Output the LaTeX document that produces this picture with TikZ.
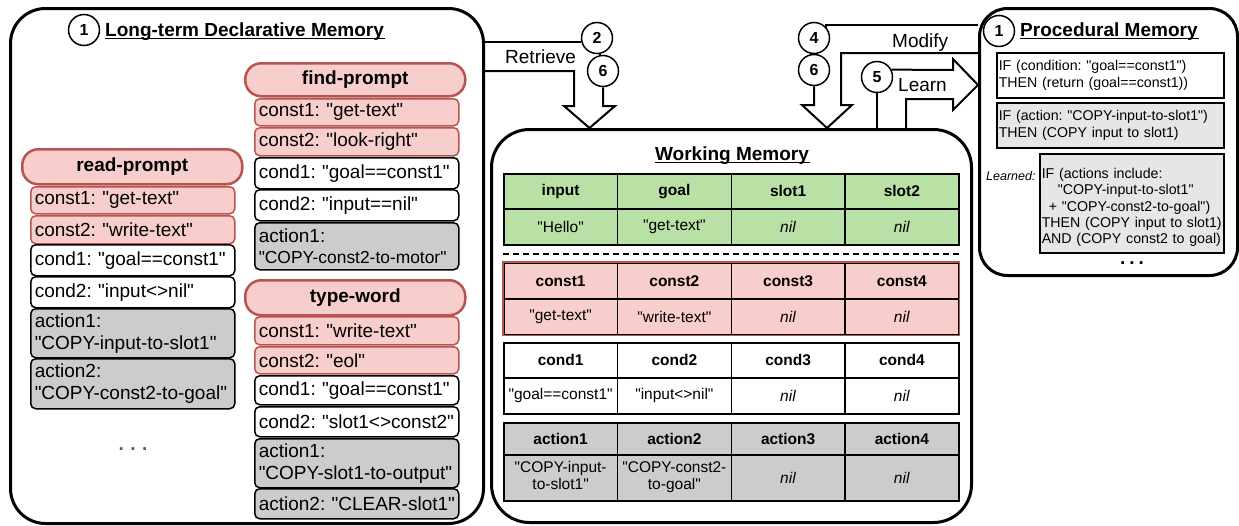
\documentclass[tikz,border=0pt]{standalone}
\usepackage{fontspec}
\setmainfont{Liberation Sans}[Ligatures=TeXOff]
\exhyphenpenalty=10000
\hyphenpenalty=10000
\definecolor{chunkpink}{HTML}{F8CECC}
\definecolor{chunkred}{HTML}{B85450}
\definecolor{wmgreen}{HTML}{B9E0A5}
\definecolor{actgray}{HTML}{CCCCCC}
\definecolor{rulegray}{HTML}{E6E6E6}
\newcommand{\chunkfont}{\fontsize{19}{21.7}\selectfont}
\newcommand{\numfont}{\fontsize{16}{18}\selectfont}
\newcommand{\tabfont}{\fontsize{15.5}{16.5}\selectfont}
\newcommand{\rulefont}{\fontsize{14.2}{16.3}\selectfont}
\newcommand{\cellpair}[2]{\begin{tabular}{@{}c@{}}#1\\#2\end{tabular}}

\begin{document}
\frenchspacing
\begin{tikzpicture}[x=1pt,y=-1pt,
  bigbox/.style={draw,line width=3pt,fill=white,rounded corners=#1,anchor=north west,inner sep=0pt},
  chunkhead/.style={anchor=north west,draw=chunkred,fill=chunkpink,line width=2.5pt,rounded corners=16pt,minimum width=220pt,minimum height=#1,inner sep=0pt,font=\chunkfont\bfseries},
  row/.style={anchor=north west,line width=1.5pt,rounded corners=5pt,text width=196pt,inner xsep=4pt,inner ysep=0pt,minimum height=#1,align=left,font=\chunkfont},
  constrow/.style={row=#1,draw=chunkred,fill=chunkpink},
  condrow/.style={row=#1,draw=black,fill=white},
  actrow/.style={row=#1,draw=black,fill=actgray},
  cell/.style={draw,line width=1.5pt,anchor=north west,minimum width=113.75pt,minimum height=#1,inner sep=0pt,font=\tabfont,align=center},
  rulebox/.style={draw,line width=1.5pt,anchor=north west,inner xsep=2pt,inner ysep=0pt,align=left,font=\rulefont},
  stepnum/.style={circle,draw,line width=1.5pt,fill=white,minimum size=31pt,inner sep=0pt,font=\numfont\bfseries},
  label text/.style={anchor=base west,inner sep=0pt,font=\chunkfont},
  title text/.style={inner sep=0pt,font=\chunkfont\bfseries},
  underbar/.style={line width=1.6pt,shorten >=-1pt},
  blockline/.style={draw,line width=2pt}]
\useasboundingbox (0,0) rectangle (1239,525);

\node[bigbox=35pt,minimum width=473pt,minimum height=515pt] (ltdm) at (9,7) {};
\node[bigbox=38pt,minimum width=480pt,minimum height=393pt] (wm) at (490,128) {};
\node[bigbox=28pt,minimum width=258pt,minimum height=267pt] (pm) at (978,7) {};

\node[stepnum] (lt1) at (84,30) {1};
\node[title text,anchor=base west] (lttitle) at (105,36) {Long-term Declarative Memory};
\draw[underbar] ([yshift=-2.6pt]lttitle.base west) -- ([yshift=-2.6pt]lttitle.base east);
\node[title text,anchor=base] (wmtitle) at (732,160) {Working Memory};
\draw[underbar] ([yshift=-2.6pt]wmtitle.base west) -- ([yshift=-2.6pt]wmtitle.base east);
\node[stepnum] (pm1) at (999,31) {1};
\node[title text,anchor=base west] (pmtitle) at (1020,36) {Procedural Memory};
\draw[underbar] ([yshift=-2.6pt]pmtitle.base west) -- ([yshift=-2.6pt]pmtitle.base east);

\node[chunkhead=35pt] (rphead) at (21,148) {read-prompt};
\node[constrow=27pt] (rpc1) at (30,186) {const1:~"get-text"};
\node[constrow=28pt] (rpc2) at (30,215) {const2:~"write-text"};
\node[condrow=31pt] (rpd1) at (30,244) {cond1:~"goal==const1"};
\node[condrow=31pt] (rpd2) at (30,276) {cond2:~"input<>nil"};
\node[actrow=49pt] (rpa1) at (30,308) {action1:\\"COPY-input-to-slot1"};
\node[actrow=50pt] (rpa2) at (30,358) {action2:\\"COPY-const2-to-goal"};
\node[inner sep=0pt,text=black!65,font=\chunkfont\bfseries] (rpmore) at (133,449) {.\hspace{6.5pt}.\hspace{6.5pt}.};

\node[chunkhead=33pt] (fphead) at (244,62) {find-prompt};
\node[constrow=27pt] (fpc1) at (254,98) {const1:~"get-text"};
\node[constrow=28pt] (fpc2) at (254,127) {const2:~"look-right"};
\node[condrow=31pt] (fpd1) at (254,157) {cond1:~"goal==const1"};
\node[condrow=31pt] (fpd2) at (254,189) {cond2:~"input==nil"};
\node[actrow=47pt] (fpa1) at (254,222) {action1:\\{\fontsize{17.4}{21.7}\selectfont"COPY-const2-to-motor"}};

\node[chunkhead=35pt] (twhead) at (244,279) {type-word};
\node[constrow=28pt] (twc1) at (254,316) {const1:~"write-text"};
\node[constrow=27pt] (twc2) at (254,346) {const2:~"eol"};
\node[condrow=29pt] (twd1) at (254,375) {cond1:~"goal==const1"};
\node[condrow=30pt] (twd2) at (254,406) {cond2:~"slot1<>const2"};
\node[actrow=49pt] (twa1) at (254,438) {action1:\\"COPY-slot1-to-output"};
\node[actrow=30pt] (twa2) at (254,488) {action2:~"CLEAR-slot1"};

\foreach \hd/\val [count=\i from 0] in {input/"Hello",goal/"get-text",slot1/\textit{nil},slot2/\textit{nil}}{
  \node[cell=35pt,fill=wmgreen] (in\i) at (503+113.75*\i,173) {\textbf{\hd}};
  \node[cell=36pt,fill=wmgreen] (iv\i) at (503+113.75*\i,208) {\val};
}
\draw[line width=1.5pt,dash pattern=on 6pt off 4pt] (iv0.south west |- 0,254) -- (iv3.south east |- 0,254);
\foreach \hd/\val [count=\i from 0] in {const1/"get-text",const2/"write-text",const3/\textit{nil},const4/\textit{nil}}{
  \node[cell=36pt,fill=chunkpink] (kn\i) at (503+113.75*\i,262) {\textbf{\hd}};
  \node[cell=36pt,fill=chunkpink] (kv\i) at (503+113.75*\i,298) {\val};
}
\draw[chunkred,line width=1.5pt] (kn0.north west) rectangle (kv3.south east);
\foreach \hd/\val [count=\i from 0] in {cond1/"goal==const1",cond2/"input<>nil",cond3/\textit{nil},cond4/\textit{nil}}{
  \node[cell=35pt,fill=white] (dn\i) at (503+113.75*\i,342) {\textbf{\hd}};
  \node[cell=36pt,fill=white] (dv\i) at (503+113.75*\i,377) {\val};
}
\foreach \hd/\val [count=\i from 0] in {action1/{\cellpair{"COPY-input-}{to-slot1"}},action2/{\cellpair{"COPY-const2-}{to-goal"}},action3/\textit{nil},action4/\textit{nil}}{
  \node[cell=32pt,fill=actgray] (an\i) at (503+113.75*\i,422) {\textbf{\hd}};
  \node[cell=46pt,fill=actgray] (av\i) at (503+113.75*\i,454) {\val};
}

\node[rulebox,fill=white,text width=223pt,minimum height=45pt] (rule1) at (996,52) {\mbox{IF (condition: "goal==const1")}\\\mbox{THEN (return (goal==const1))}};
\node[rulebox,fill=rulegray,text width=223pt,minimum height=45pt] (rule2) at (996,102) {\mbox{IF (action: "COPY-input-to-slot1")}\\\mbox{THEN (COPY input to slot1)}};
\node[rulebox,fill=rulegray,text width=180pt,minimum height=99pt] (rule3) at (1039,153) {\rule{0pt}{19pt}\mbox{IF (actions include:}\\\hspace*{16pt}\mbox{"COPY-input-to-slot1"}\\\hspace*{7pt}\mbox{+ "COPY-const2-to-goal")}\\\mbox{THEN (COPY input to slot1)}\\\mbox{AND (COPY const2 to goal)}};
\node[anchor=base west,inner sep=0pt,font=\fontsize{12.5}{14}\selectfont\itshape] (learned) at (986,180) {Learned:};
\node[inner sep=0pt,font=\chunkfont\bfseries] (pmmore) at (1132,263) {.\hspace{4pt}.\hspace{4pt}.};

\node[stepnum] (c2) at (597,38) {2};
\node[stepnum] (c6a) at (603,71) {6};
\node[stepnum] (c4) at (814,38) {4};
\node[stepnum] (c6b) at (814,70) {6};
\node[stepnum] (c5) at (877,77) {5};

\draw[blockline] (ltdm.east |- c2.196) -- (c2.196);
\draw[blockline] (c2) -- (c6a);
\draw[blockline] (c6a.south) -- (603,106) -- (615,106) -- (589.5,128) -- (564,106) -- (574,106) -- (574,71) -- (ltdm.east |- 0,71);
\node[label text] (retrieve) at (505,63.5) {Retrieve};

\draw[blockline] (c4.40) |- (pm.west |- 0,25);
\draw[blockline] (c4) -- (c6b);
\draw[blockline] (c6b.south) -- (814,105) -- (802,105) -- (827,128) -- (852,105) -- (841,105) -- (841,53) -- (pm.west |- 0,53);
\node[label text] (modify) at (892,47) {Modify};

\draw[blockline] (c5.south) -- (c5.south |- wm.north);
\draw[blockline] (c5.27) -- (953,70) -- (953,59) -- (pm.west |- 0,85) -- (953,110) -- (953,99) -- (906,99) -- (906,128);
\node[label text] (learn) at (898,91) {Learn};
\end{tikzpicture}
\end{document}
